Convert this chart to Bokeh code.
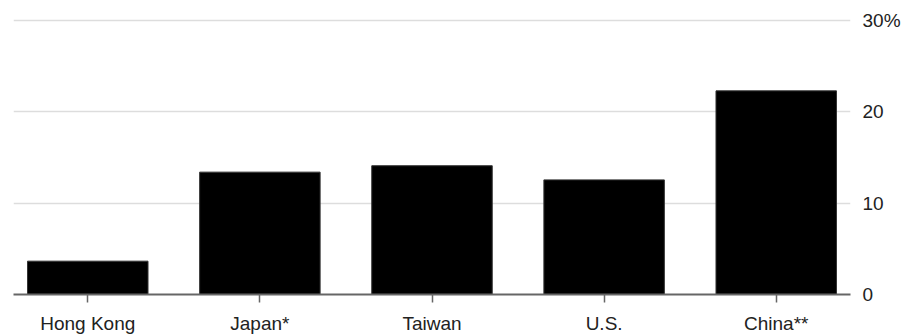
from bokeh.plotting import figure
from bokeh.models import Range1d, FixedTicker, ColumnDataSource
from bokeh.embed import file_html
from bokeh.resources import INLINE

categories = ["Hong Kong", "Japan*", "Taiwan", "U.S.", "China**"]
values = [3.65, 13.4, 14.1, 12.55, 22.3]
y_ticks = [0, 10, 20, 30]
y_tick_labels = ["0", "10", "20", "30%"]

xs = list(range(len(categories)))
src = ColumnDataSource(dict(x=xs, top=values))

p = figure(frame_width=837, frame_height=280, output_backend="svg",
           toolbar_location=None, x_range=Range1d(-0.4315, len(categories) - 1 + 0.4315),
           y_range=Range1d(0, 30.66), y_axis_location="right",
           min_border_left=13, min_border_top=14, min_border_right=58,
           min_border_bottom=41)
p.outline_line_color = None
p.background_fill_color = "white"
p.border_fill_color = "white"

p.vbar(x="x", top="top", width=0.70, bottom=0, source=src,
       fill_color="black", line_color="#333333", line_width=1)

FONT = "Liberation Sans"

xa = p.xaxis[0]
xa.ticker = FixedTicker(ticks=xs)
xa.major_label_overrides = {i: c for i, c in zip(xs, categories)}
xa.minor_tick_line_color = None
xa.major_tick_in = 0
xa.major_tick_out = 8
xa.major_tick_line_color = "#666666"
xa.major_tick_line_width = 1.5
xa.axis_line_color = "#666666"
xa.axis_line_width = 2
xa.major_label_text_font = FONT
xa.major_label_text_font_size = "19px"
xa.major_label_text_color = "#222222"
xa.major_label_standoff = 10

ya = p.yaxis[0]
ya.ticker = FixedTicker(ticks=y_ticks)
ya.major_label_overrides = {t: l for t, l in zip(y_ticks, y_tick_labels)}
ya.minor_tick_line_color = None
ya.major_tick_line_color = None
ya.major_tick_in = 0
ya.major_tick_out = 0
ya.axis_line_color = None
ya.major_label_text_font = FONT
ya.major_label_text_font_size = "19px"
ya.major_label_text_color = "#222222"
ya.major_label_standoff = 12

p.xgrid.grid_line_color = None
p.ygrid.ticker = FixedTicker(ticks=y_ticks[1:])
p.ygrid.grid_line_color = "#dddddd"
p.ygrid.grid_line_width = 1.5

open("out.html", "w").write(file_html(p, INLINE))
